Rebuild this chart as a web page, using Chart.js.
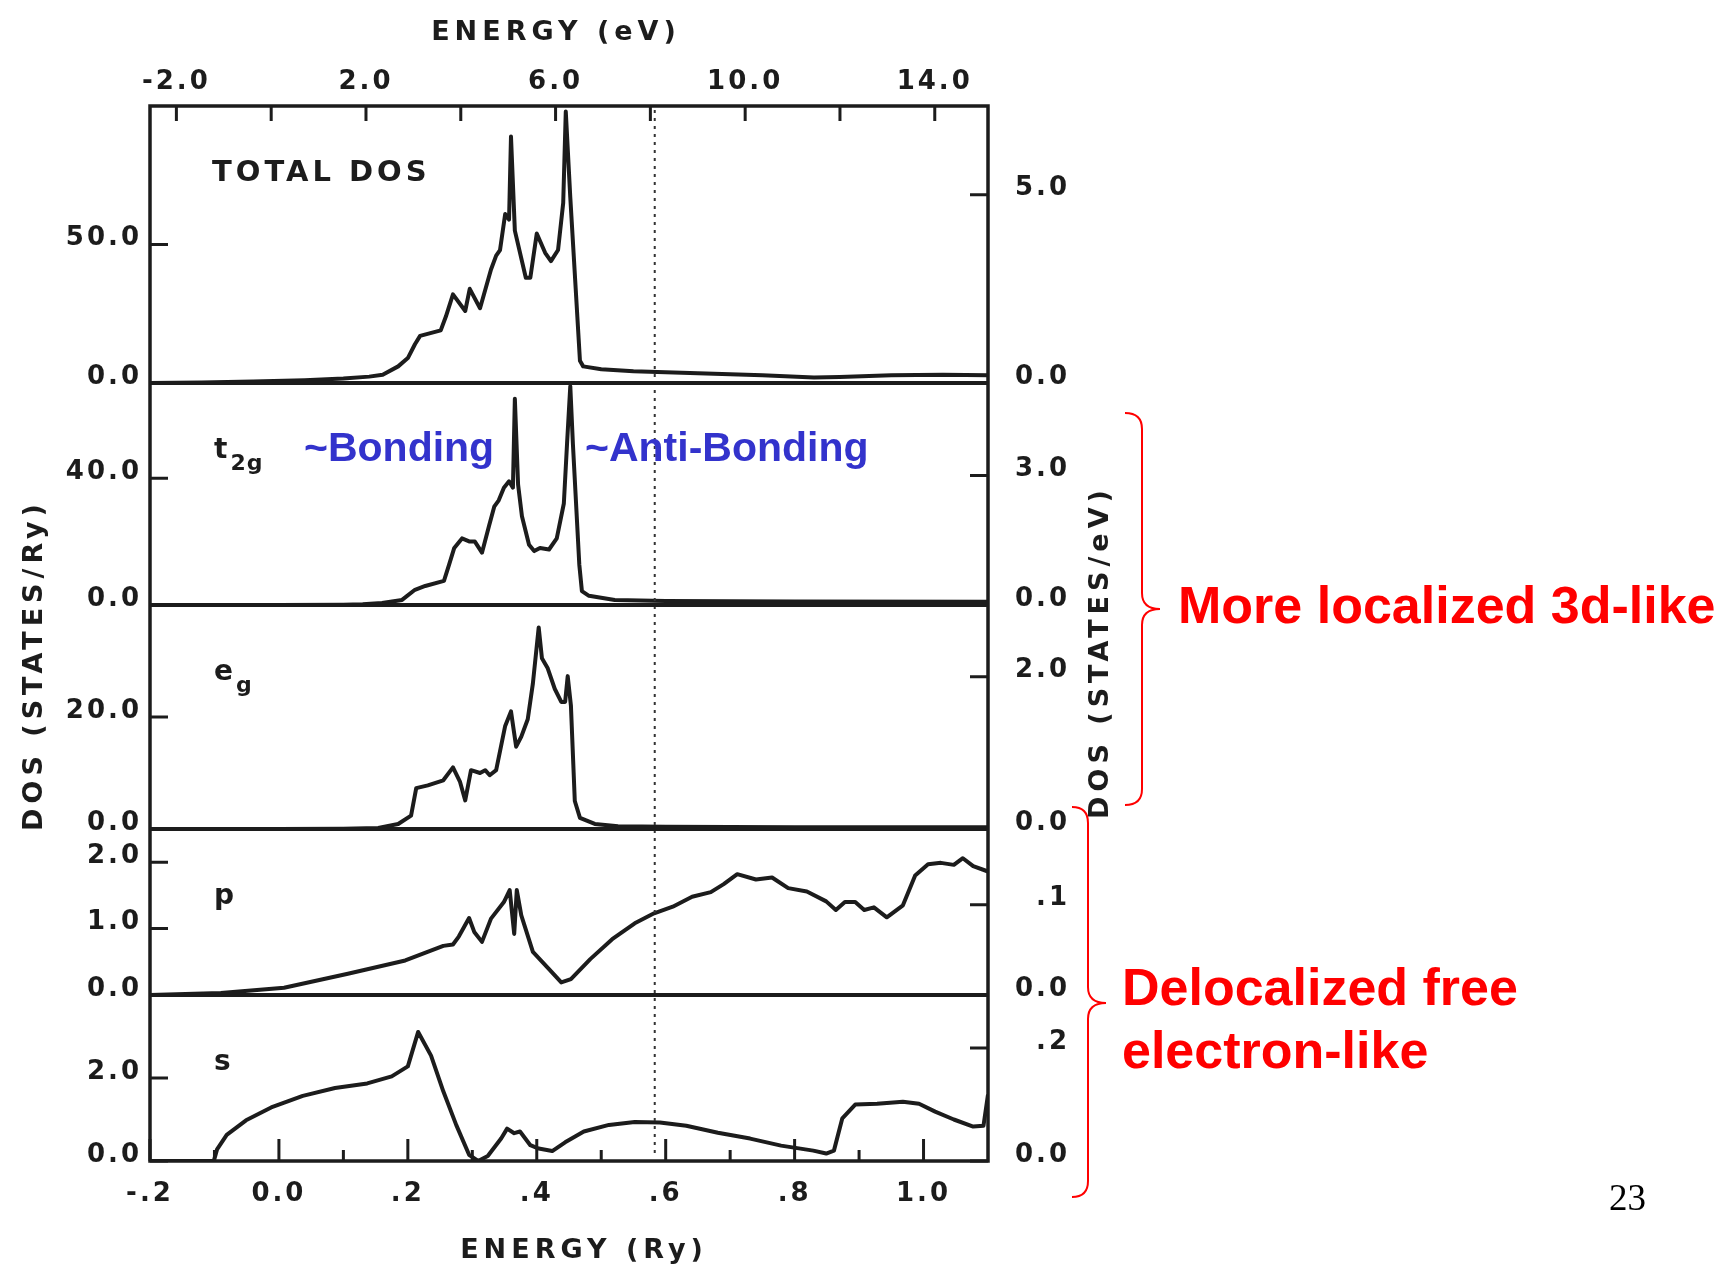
<!DOCTYPE html>
<html>
<head>
<meta charset="utf-8">
<title>Density of states</title>
<script src="https://cdn.jsdelivr.net/npm/chart.js@4.4.1/dist/chart.umd.min.js"></script>
<style>
  html, body { margin: 0; padding: 0; background: #fff; overflow: hidden; }
  #wrap { width: 1731px; height: 1266px; }
</style>
</head>
<body>
<div id="wrap"><canvas id="dos" width="1731" height="1266"></canvas></div>
<script>
// Energies in Ry, densities in states/Ry

const totalEnergy = [-0.2, -0.12, -0.04, 0.04, 0.1, 0.14, 0.161, 0.185, 0.2, 0.211, 0.219, 0.251, 0.259, 0.27, 0.289, 0.296, 0.312, 0.329, 0.337, 0.343, 0.351, 0.357, 0.36, 0.366, 0.383, 0.39, 0.4, 0.413, 0.422, 0.433, 0.441, 0.445, 0.452, 0.467, 0.472, 0.5, 0.55, 0.65, 0.75, 0.83, 0.87, 0.95, 1.03, 1.1];
const totalDos = [0, 0.2, 0.5, 1.0, 1.6, 2.3, 3, 6, 9, 14, 17, 19, 24, 32, 26, 34, 27, 41, 46, 48, 61, 59, 89, 55, 38, 38, 54, 47, 44, 48, 65, 98, 67, 8, 6, 5, 4.2, 3.5, 2.8, 2.0, 2.2, 2.8, 3.0, 2.8];

const t2gEnergy = [-0.2, 0.0, 0.1, 0.13, 0.16, 0.191, 0.211, 0.227, 0.256, 0.264, 0.272, 0.284, 0.296, 0.304, 0.315, 0.326, 0.334, 0.341, 0.349, 0.357, 0.363, 0.366, 0.371, 0.377, 0.388, 0.396, 0.405, 0.419, 0.431, 0.442, 0.447, 0.452, 0.456, 0.466, 0.47, 0.481, 0.521, 0.6, 0.8, 1.1];
const t2gDos = [0, 0, 0.1, 0.2, 0.6, 1.6, 4.8, 6, 7.6, 12.7, 18, 21, 20, 20, 16.5, 25, 31, 33, 37, 39, 37, 65, 38, 28, 19, 17, 18, 17.5, 21, 32, 51, 69, 51, 12.7, 4.4, 2.9, 1.6, 1.3, 1.1, 1.0];

const egEnergy = [-0.2, 0.0, 0.1, 0.154, 0.185, 0.205, 0.213, 0.231, 0.255, 0.27, 0.281, 0.289, 0.298, 0.312, 0.32, 0.327, 0.337, 0.351, 0.36, 0.368, 0.376, 0.386, 0.394, 0.403, 0.408, 0.417, 0.428, 0.438, 0.444, 0.448, 0.453, 0.459, 0.467, 0.49, 0.526, 0.6, 0.8, 1.1];
const egDos = [0, 0, 0.05, 0.2, 0.9, 2.4, 7.3, 7.8, 8.7, 11, 8.4, 5.1, 10.5, 10, 10.5, 9.6, 10.5, 18.4, 21, 14.7, 16.5, 19.6, 26, 36, 30.5, 28.7, 25, 22.7, 22.7, 27.3, 22, 5, 2, 0.9, 0.5, 0.4, 0.3, 0.3];

const pEnergy = [-0.2, -0.09, 0.008, 0.107, 0.196, 0.255, 0.27, 0.279, 0.295, 0.303, 0.315, 0.329, 0.349, 0.358, 0.365, 0.369, 0.376, 0.394, 0.419, 0.438, 0.453, 0.483, 0.517, 0.552, 0.582, 0.611, 0.641, 0.67, 0.69, 0.711, 0.74, 0.765, 0.79, 0.819, 0.849, 0.864, 0.878, 0.894, 0.908, 0.923, 0.943, 0.968, 0.987, 1.007, 1.027, 1.047, 1.061, 1.077, 1.1];
const pDos = [0, 0.03, 0.11, 0.32, 0.52, 0.74, 0.76, 0.88, 1.16, 0.95, 0.8, 1.15, 1.4, 1.58, 0.92, 1.58, 1.2, 0.65, 0.39, 0.19, 0.24, 0.54, 0.84, 1.08, 1.23, 1.33, 1.48, 1.55, 1.67, 1.82, 1.74, 1.77, 1.61, 1.56, 1.41, 1.28, 1.4, 1.4, 1.28, 1.32, 1.17, 1.35, 1.8, 1.97, 1.99, 1.96, 2.06, 1.94, 1.86];

const sEnergy = [-0.2, -0.101, -0.096, -0.081, -0.051, -0.012, 0.037, 0.087, 0.137, 0.175, 0.2, 0.216, 0.236, 0.255, 0.275, 0.295, 0.309, 0.324, 0.345, 0.354, 0.365, 0.374, 0.39, 0.403, 0.424, 0.444, 0.473, 0.512, 0.552, 0.591, 0.632, 0.681, 0.731, 0.779, 0.829, 0.849, 0.861, 0.874, 0.894, 0.928, 0.968, 0.993, 1.018, 1.047, 1.077, 1.093, 1.1];
const sDos = [0, 0, 0.28, 0.63, 0.98, 1.29, 1.57, 1.76, 1.87, 2.04, 2.28, 3.11, 2.54, 1.68, 0.87, 0.15, 0.0, 0.12, 0.55, 0.78, 0.67, 0.71, 0.38, 0.3, 0.24, 0.45, 0.71, 0.87, 0.94, 0.93, 0.85, 0.68, 0.54, 0.37, 0.25, 0.18, 0.25, 1.03, 1.36, 1.38, 1.43, 1.38, 1.19, 1.0, 0.83, 0.85, 1.6];

// panel order, top to bottom
const panelNames = ["TOTAL DOS", "t2g", "eg", "p", "s"];
const panelEnergy = [totalEnergy, t2gEnergy, egEnergy, pEnergy, sEnergy];
const panelDos = [totalDos, t2gDos, egDos, pDos, sDos];
const panelMax = [100, 70, 40, 2.5, 4];

// left axis in states/Ry, right axis in states/eV
const leftTickValues = [[0, 50], [0, 40], [0, 20], [0, 1, 2], [0, 2]];
const rightTickValues = [[0, 5], [0, 3], [0, 2], [0, 0.1], [0, 0.2]];
const rightTickLabels = [["0.0", "5.0"], ["0.0", "3.0"], ["0.0", "2.0"], ["0.0", ".1"], ["0.0", ".2"]];

const ryMin = -0.2;
const ryMax = 1.1;
const ryTicks = [-0.2, -0.1, 0, 0.1, 0.2, 0.3, 0.4, 0.5, 0.6, 0.7, 0.8, 0.9, 1.0];
const ryLabels = ["-.2", "", "0.0", "", ".2", "", ".4", "", ".6", "", ".8", "", "1.0"];
const evTicks = [-2, 0, 2, 4, 6, 8, 10, 12, 14];
const evLabels = ["-2.0", "", "2.0", "", "6.0", "", "10.0", "", "14.0"];

const RY_TO_EV = 13.6;
const EV_ORIGIN_RY = -0.012;
const FERMI_RY = 0.583;

// ---- layout / style ----
const ink = "#1c1c1c";
const plotFont = '"DejaVu Sans", sans-serif';
const tickFont = { family: plotFont, size: 26, weight: "bold" };
const panelHeights = [277, 222, 224, 166, 166];

function fixedWidth(w) {
  return (scale) => { scale.width = w; };
}
function fixedHeight(h) {
  return (scale) => { scale.height = h; };
}

const scales = {
  x: {
    type: "linear",
    position: "bottom",
    min: ryMin,
    max: ryMax,
    afterFit: fixedHeight(60),
    afterBuildTicks: (s) => { s.ticks = ryTicks.map((v) => ({ value: v })); },
    ticks: { autoSkip: false, maxRotation: 0, padding: 18, font: tickFont, color: ink,
             callback: (v, i) => ryLabels[i] },
    grid: { display: false, drawTicks: false },
    border: { display: false },
  },
  x2: {
    type: "linear",
    position: "top",
    min: (ryMin - EV_ORIGIN_RY) * RY_TO_EV,
    max: (ryMax - EV_ORIGIN_RY) * RY_TO_EV,
    afterFit: fixedHeight(60),
    afterBuildTicks: (s) => { s.ticks = evTicks.map((v) => ({ value: v })); },
    ticks: { autoSkip: false, maxRotation: 0, padding: 8, font: tickFont, color: ink,
             callback: (v, i) => evLabels[i] },
    grid: { display: false, drawTicks: false },
    border: { display: false },
  },
};

panelNames.forEach((name, i) => {
  scales["y" + i] = {
    type: "linear",
    position: "left",
    stack: "dos",
    stackWeight: panelHeights[i],
    weight: panelNames.length - i,
    min: 0,
    max: panelMax[i],
    afterFit: fixedWidth(100),
    afterBuildTicks: (s) => { s.ticks = leftTickValues[i].map((v) => ({ value: v })); },
    ticks: { padding: 8, labelOffset: -6, font: tickFont, color: ink,
             callback: (v) => Number(v).toFixed(1) },
    grid: { display: false, drawTicks: false },
    border: { display: false },
  };
  scales["r" + i] = {
    type: "linear",
    position: "right",
    stack: "dos",
    stackWeight: panelHeights[i],
    weight: i + 1,
    min: 0,
    max: panelMax[i] / RY_TO_EV,
    afterFit: fixedWidth(82),
    afterBuildTicks: (s) => { s.ticks = rightTickValues[i].map((v) => ({ value: v })); },
    ticks: { crossAlign: "far", labelOffset: -6, font: tickFont, color: ink,
             callback: (v, k) => rightTickLabels[i][k] },
    grid: { display: false, drawTicks: false },
    border: { display: false },
  };
});

const datasets = panelNames.map((name, i) => ({
  label: name,
  data: panelEnergy[i].map((e, k) => ({ x: e, y: panelDos[i][k] })),
  xAxisID: "x",
  yAxisID: "y" + i,
  borderColor: ink,
  borderWidth: 4,
  borderJoinStyle: "round",
  pointRadius: 0,
  tension: 0,
  fill: false,
}));

function brace(ctx, xOut, xIn, xTip, yTop, yTip, yBot) {
  const r = 16;
  ctx.beginPath();
  ctx.moveTo(xOut, yTop);
  ctx.quadraticCurveTo(xIn, yTop, xIn, yTop + r);
  ctx.lineTo(xIn, yTip - r);
  ctx.quadraticCurveTo(xIn, yTip, xTip, yTip);
  ctx.quadraticCurveTo(xIn, yTip, xIn, yTip + r);
  ctx.lineTo(xIn, yBot - r);
  ctx.quadraticCurveTo(xIn, yBot, xOut, yBot);
  ctx.stroke();
}

const frameAndNotes = {
  id: "frameAndNotes",
  beforeDraw(chart) {
    chart.ctx.letterSpacing = "3px";
  },
  afterDatasetsDraw(chart) {
    const ctx = chart.ctx;
    const { left, right, top, bottom } = chart.chartArea;
    const sx = chart.scales.x;
    const sx2 = chart.scales.x2;
    ctx.save();
    ctx.strokeStyle = ink;
    ctx.lineCap = "butt";

    // Fermi level
    ctx.save();
    ctx.setLineDash([3, 5]);
    ctx.lineWidth = 2;
    ctx.strokeStyle = "#333";
    const xf = sx.getPixelForValue(FERMI_RY);
    ctx.beginPath();
    ctx.moveTo(xf, top + 4);
    ctx.lineTo(xf, bottom - 4);
    ctx.stroke();
    ctx.restore();

    // frame and panel baselines
    ctx.lineWidth = 3.5;
    ctx.strokeRect(left, top, right - left, bottom - top);
    ctx.lineWidth = 4;
    ctx.beginPath();
    for (let i = 0; i < panelNames.length - 1; i++) {
      const y = chart.scales["y" + i].getPixelForValue(0);
      ctx.moveTo(left, y);
      ctx.lineTo(right, y);
    }
    ctx.stroke();

    // inward tick marks
    ctx.lineWidth = 3;
    ctx.beginPath();
    sx2.ticks.forEach((t) => {
      const px = sx2.getPixelForValue(t.value);
      ctx.moveTo(px, top);
      ctx.lineTo(px, top + 15);
    });
    sx.ticks.forEach((t, i) => {
      const px = sx.getPixelForValue(t.value);
      const len = ryLabels[i] ? 22 : 11;
      ctx.moveTo(px, bottom);
      ctx.lineTo(px, bottom - len);
    });
    panelNames.forEach((name, i) => {
      const yl = chart.scales["y" + i];
      const yr = chart.scales["r" + i];
      yl.ticks.forEach((t) => {
        const py = yl.getPixelForValue(t.value);
        ctx.moveTo(left, py);
        ctx.lineTo(left + 18, py);
      });
      yr.ticks.forEach((t) => {
        const py = yr.getPixelForValue(t.value);
        ctx.moveTo(right, py);
        ctx.lineTo(right - 18, py);
      });
    });
    ctx.stroke();

    // panel labels
    ctx.fillStyle = ink;
    ctx.textBaseline = "alphabetic";
    ctx.textAlign = "left";
    panelNames.forEach((name, i) => {
      const py = chart.scales["y" + i].top + 75;
      const px = left + 62;
      if (i === 0) {
        ctx.letterSpacing = "4px";
        ctx.font = "bold 29px " + plotFont;
        ctx.fillText(name, px, py);
        return;
      }
      ctx.letterSpacing = "0px";
      ctx.font = "bold 28px " + plotFont;
      const main = name.charAt(0);
      ctx.fillText(main, px + 2, py);
      const sub = name.slice(1);
      if (sub) {
        const w = ctx.measureText(main).width;
        ctx.font = "bold 22px " + plotFont;
        ctx.letterSpacing = "1px";
        ctx.fillText(sub, px + 5 + w, py + 12);
      }
    });

    // axis titles
    ctx.font = "bold 27px " + plotFont;
    ctx.letterSpacing = "5px";
    ctx.textAlign = "center";
    ctx.textBaseline = "middle";
    ctx.fillText("ENERGY (eV)", 556, 33);
    ctx.fillText("ENERGY (Ry)", 584, 1251);
    ctx.save();
    ctx.translate(35, 665);
    ctx.rotate(-Math.PI / 2);
    ctx.fillText("DOS (STATES/Ry)", 0, 0);
    ctx.restore();
    ctx.save();
    ctx.translate(1101, 652);
    ctx.rotate(-Math.PI / 2);
    ctx.fillText("DOS (STATES/eV)", 0, 0);
    ctx.restore();

    // bonding / anti-bonding notes
    ctx.letterSpacing = "0px";
    ctx.textAlign = "left";
    ctx.textBaseline = "alphabetic";
    ctx.fillStyle = "#3333cc";
    ctx.font = 'bold 41px "Liberation Sans", Arial, sans-serif';
    ctx.fillText("~Bonding", 304, 461);
    ctx.fillText("~Anti-Bonding", 585, 461);

    // character groups
    ctx.strokeStyle = "#ff0000";
    ctx.fillStyle = "#ff0000";
    ctx.lineWidth = 2;
    brace(ctx, 1125, 1142, 1160, 413, 609, 805);
    brace(ctx, 1072, 1088, 1106, 807, 1003, 1197);
    ctx.font = 'bold 52px "Liberation Sans", Arial, sans-serif';
    ctx.fillText("More localized 3d-like", 1178, 623);
    ctx.fillText("Delocalized free", 1122, 1005);
    ctx.fillText("electron-like", 1122, 1068);

    // page number
    ctx.fillStyle = "#000";
    ctx.font = '37px "Liberation Serif", "Times New Roman", serif';
    ctx.fillText("23", 1609, 1210);

    ctx.restore();
  },
};

new Chart(document.getElementById("dos"), {
  type: "line",
  data: { datasets },
  options: {
    responsive: false,
    animation: false,
    events: [],
    layout: { padding: { left: 50, right: 661, top: 46, bottom: 45 } },
    scales,
    plugins: {
      legend: { display: false },
      tooltip: { enabled: false },
    },
  },
  plugins: [frameAndNotes],
});
</script>
</body>
</html>
